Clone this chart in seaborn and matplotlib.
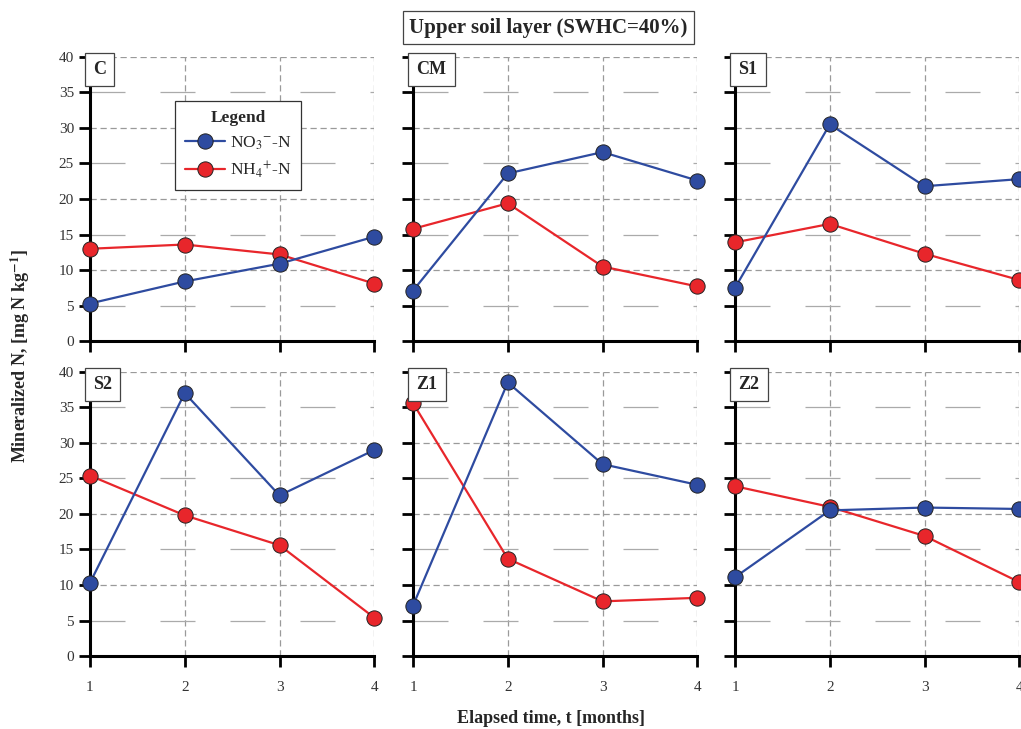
import pandas as pd
import matplotlib.pyplot as plt
import seaborn as sns

# Data
months = [1, 2, 3, 4]
treatments = ["C", "CM", "S1", "S2", "Z1", "Z2"]
no3 = {
    "C": [5.3, 8.4, 10.9, 14.7],
    "CM": [7.1, 23.6, 26.6, 22.6],
    "S1": [7.5, 30.5, 21.8, 22.8],
    "S2": [10.3, 37.0, 22.6, 29.0],
    "Z1": [7.1, 38.5, 27.0, 24.1],
    "Z2": [11.1, 20.5, 20.9, 20.7],
}
nh4 = {
    "C": [13.0, 13.6, 12.2, 8.1],
    "CM": [15.8, 19.4, 10.5, 7.7],
    "S1": [13.9, 16.5, 12.3, 8.6],
    "S2": [25.4, 19.8, 15.6, 5.4],
    "Z1": [35.6, 13.7, 7.7, 8.2],
    "Z2": [23.9, 21.0, 16.9, 10.4],
}
series_labels = [r"NO$_3$$^{-}$-N", r"NH$_4$$^{+}$-N"]
colors = {"NO3": "#2E4BA0", "NH4": "#E8262B"}

rows = []
for t in treatments:
    for m, a, b in zip(months, no3[t], nh4[t]):
        rows.append({"treatment": t, "month": m, "species": "NO3", "value": a})
        rows.append({"treatment": t, "month": m, "species": "NH4", "value": b})
df = pd.DataFrame(rows)

sns.set_style("white")
plt.rcParams["font.family"] = ["Liberation Serif", "DejaVu Serif"]
plt.rcParams["mathtext.fontset"] = "stix"

fig = plt.figure(figsize=(10.21, 7.29), dpi=100)

col_left = [0.0881, 0.4045, 0.7199]
row_bottom = [0.532, 0.100]
w, h = 0.2785, 0.390

for i, t in enumerate(treatments):
    r, c = divmod(i, 3)
    ax = fig.add_axes([col_left[c], row_bottom[r], w, h])
    sub = df[df["treatment"] == t]
    handles = {}
    # red first so the blue markers sit on top where they overlap
    for sp in ["NH4", "NO3"]:
        d = sub[sub["species"] == sp]
        sns.lineplot(data=d, x="month", y="value", color=colors[sp], marker="o",
                     markersize=11, markeredgecolor="#222222", markeredgewidth=0.7,
                     linewidth=1.6, ax=ax, legend=False, clip_on=False, zorder=3)
        handles[sp] = ax.lines[-1]
    ax.set_xlim(1, 4)
    ax.set_ylim(0, 40)
    ax.set_xticks(months)
    ax.set_yticks(range(0, 41, 10))
    ax.set_yticks(range(5, 40, 10), minor=True)
    ax.set_xlabel("")
    ax.set_ylabel("")
    ax.xaxis.grid(True, color="#9a9a9a", linestyle=(0, (5, 3)), linewidth=0.9)
    ax.yaxis.grid(True, which="major", color="#9a9a9a", linestyle=(0, (5, 3)), linewidth=0.9)
    ax.yaxis.grid(True, which="minor", color="#aaaaaa", linestyle=(0, (28, 28)), linewidth=0.9)
    for s in ["top", "right"]:
        ax.spines[s].set_visible(False)
    for s in ["left", "bottom"]:
        ax.spines[s].set_linewidth(2.2)
        ax.spines[s].set_color("black")
    ax.tick_params(axis="both", which="both", direction="out", length=8, width=2,
                   color="black", labelsize=11, labelcolor="#333333",
                   bottom=True, left=True)
    ax.tick_params(axis="x", pad=10)
    if c == 0:
        ax.set_yticklabels([str(v) for v in range(0, 41, 10)])
        ax.set_yticklabels([str(v) for v in range(5, 40, 10)], minor=True)
    else:
        ax.set_yticklabels([])
        ax.set_yticklabels([], minor=True)
    if r == 0:
        ax.set_xticklabels([])
    ax.text(0.012, 0.985, t, transform=ax.transAxes, ha="left", va="top",
            fontsize=13, fontweight="bold",
            bbox=dict(boxstyle="square,pad=0.45", fc="white", ec="#444444", lw=0.9))
    if t == "C":
        leg = ax.legend([handles["NO3"], handles["NH4"]], series_labels,
                        title="Legend", loc="upper left", bbox_to_anchor=(0.30, 0.845),
                        borderaxespad=0,
                        fontsize=12.5, title_fontproperties={"weight": "bold", "size": 12.5},
                        frameon=True, fancybox=False, edgecolor="#333333",
                        handlelength=2.3, borderpad=0.55, labelspacing=0.45,
                        handletextpad=0.3, framealpha=1)
        leg.get_frame().set_linewidth(0.9)

fig.text(0.537, 0.962, "Upper soil layer (SWHC=40%)", ha="center", va="center",
         fontsize=15, fontweight="bold",
         bbox=dict(boxstyle="square,pad=0.3", fc="white", ec="#444444", lw=0.9))
fig.text(0.020, 0.512, r"Mineralized N, [mg N kg$^{\mathbf{-1}}$]", rotation=90,
         ha="center", va="center", fontsize=13, fontweight="bold")
fig.text(0.540, 0.015, "Elapsed time, t [months]", ha="center", va="center",
         fontsize=13, fontweight="bold")

fig.savefig("out.png", dpi=100)
